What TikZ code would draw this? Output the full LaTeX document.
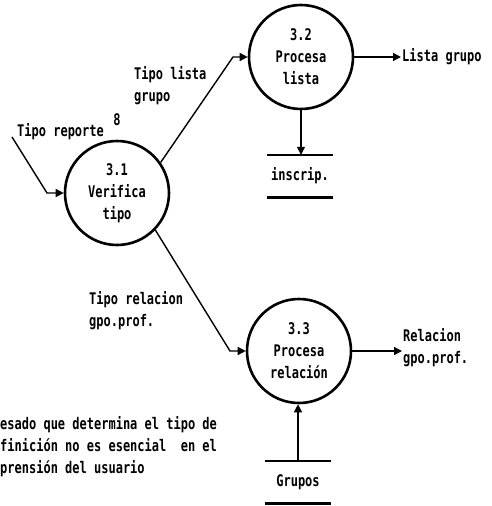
\documentclass[tikz,border=0pt]{standalone}
\usepackage{fontspec}
\usetikzlibrary{arrows.meta}
\newfontfamily\dfdfont{DejaVu Sans Mono}[FakeStretch=0.75]
\tikzset{
  proc/.style={circle,draw,line width=2.6pt,minimum size=104pt,inner sep=0pt,align=center},
  store/.style={minimum width=66pt,minimum height=42pt,inner sep=0pt},
  storeline/.style={line width=2.6pt},
  flow/.style={line width=1.4pt,-{Triangle[length=8pt,width=8pt]}},
  lbl/.style={inner sep=1pt,align=left}
}
\begin{document}
\begin{tikzpicture}[x=1pt,y=-1pt,font=\dfdfont\bfseries\fontsize{16}{22}\selectfont]
  \useasboundingbox (0,0) rectangle (492,506);
  % procesos
  \node[proc] (p31) at (117,193) {3.1\\Verifica\\tipo};
  \node[proc] (p32) at (301,57)  {3.2\\Procesa\\lista};
  \node[proc] (p33) at (299,351) {3.3\\Procesa\\relación};
  % almacenes
  \node[store] (ins) at (300,176) {inscrip.};
  \draw[storeline] (ins.north west) -- (ins.north east);
  \draw[storeline] (ins.south west) -- (ins.south east);
  \node[store] (grp) at (298,482) {Grupos};
  \draw[storeline] (grp.north west) -- (grp.north east);
  \draw[storeline] (grp.south west) -- (grp.south east);
  % etiquetas
  \node[lbl,anchor=west] (trep) at (16,132) {Tipo reporte};
  \node (ocho) at (117,120) {8};
  \node[lbl,anchor=west] (tlista) at (133,86) {Tipo lista\\grupo};
  \node[lbl,anchor=west] (trel) at (88,311) {Tipo relacion\\gpo.prof.};
  \node[lbl,anchor=west] (lgrupo) at (401,57) {Lista grupo};
  \node[lbl,anchor=west] (rgpo) at (402,348) {Relacion\\gpo.prof.};
  \node[lbl,anchor=west] (nota) at (-1,447) {esado que determina el tipo de\\finición no es esencial\ \ en el\\prensión del usuario};
  % flujos
  \coordinate (ent) at (12,137);
  \coordinate (k1) at (47,193);
  \coordinate (k2) at (233,57);
  \coordinate (k3) at (230,351);
  \draw[flow] (ent) -- (k1) -- (p31.west);
  \draw[flow] (p31.35) -- (k2) -- (p32.west);
  \draw[flow] (p31.-44) -- (k3) -- (p33.west);
  \draw[flow] (p32.south) -- (p32.south |- ins.north);
  \draw[flow] (grp.north) -- (grp.north |- p33.south);
  \draw[flow] (p32.east) -- (lgrupo.west);
  \draw[flow] (p33.east) -- (p33.east -| rgpo.west);
\end{tikzpicture}
\end{document}
